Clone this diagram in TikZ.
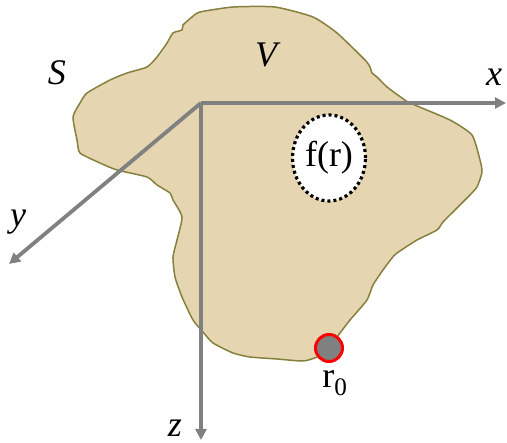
\documentclass[tikz,border=0pt]{standalone}
\usepackage{fontspec}
\setmainfont{Liberation Serif}
\usetikzlibrary{arrows.meta,shapes.geometric}
\definecolor{blobfill}{RGB}{229,213,176}
\definecolor{blobline}{RGB}{133,128,62}
\definecolor{axisgray}{RGB}{128,128,128}
\begin{document}
\begin{tikzpicture}[x=1pt,y=-1pt,
  axis/.style={draw=axisgray,line width=3.8pt,-{Triangle[length=11pt,width=11pt]}},
  lbl/.style={font=\fontsize{36}{40}\selectfont\itshape,inner sep=0pt},
  txt/.style={font=\fontsize{36}{40}\selectfont,inner sep=0pt}]
\useasboundingbox (0,0) rectangle (507,443);
\fill[blobfill,draw=blobline,line width=1.5pt] plot[smooth cycle,tension=0.35] coordinates {
(192,17) (200,12) (233,7) (275,7) (313,17) (337,33) (365,60) (370,67) (372,73) (377,77) (387,87) (402,98) (410,103) (450,120) (472,135) (480,160) (482,172) (477,187) (468,197) (457,208) (443,222) (437,230) (417,240) (397,253) (392,258) (383,270) (373,285) (367,300) (350,320) (340,333) (329,347) (317,357) (303,361) (277,359) (250,357) (233,353) (213,343) (203,332) (193,320) (182,297) (175,277) (173,257) (177,240) (182,217) (173,200) (170,193) (157,185) (147,177) (117,170) (100,163) (80,153) (77,140) (73,117) (80,103) (87,93) (110,80) (127,73) (147,67) (157,57) (167,43) (173,33) (182,30) (183,25)};
\coordinate (O) at (201,103);
\coordinate (xend) at (506,103);
\coordinate (yend) at (9,264);
\coordinate (zend) at (201,440);
\draw[axis] (O) -- (xend);
\draw[axis] (O) -- (yend);
\draw[axis] (O) -- (zend);
\node[draw=black,line width=3.2pt,dash pattern=on 3pt off 3pt,fill=white,ellipse,minimum width=73pt,minimum height=86pt,inner sep=0pt] (f) at (329,158) {};
\node[txt] (flbl) at (f.center) {f(r)};
\node[circle,draw=red,fill=axisgray,line width=3pt,minimum size=27pt,inner sep=0pt] (r0) at (329,348) {};
\node[txt,anchor=north] (r0lbl) at (335,370) {r\textsubscript{0}};
\node[lbl] (S) at (57,73) {S};
\node[lbl] (V) at (266,55) {V};
\node[lbl] (xl) at (494,77) {x};
\node[lbl] (yl) at (18,222) {y};
\node[lbl] (zl) at (175,428) {z};
\end{tikzpicture}
\end{document}
